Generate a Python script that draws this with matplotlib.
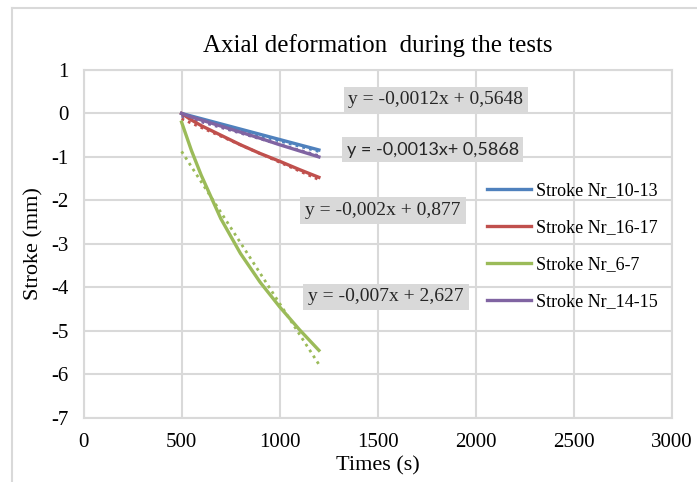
import numpy as np
import matplotlib
matplotlib.use("Agg")
import matplotlib.pyplot as plt
from matplotlib.lines import Line2D

plt.rcParams["axes.unicode_minus"] = False

t = [500, 550, 600, 700, 800, 900, 1000, 1100, 1200]
stroke_10_13 = [0.0, -0.06, -0.12, -0.24, -0.36, -0.48, -0.60, -0.72, -0.84]
stroke_16_17 = [0.0, -0.15, -0.28, -0.50, -0.72, -0.92, -1.10, -1.29, -1.47]
stroke_6_7 = [-0.2, -0.85, -1.42, -2.42, -3.22, -3.88, -4.45, -4.97, -5.45]
stroke_14_15 = [0.0, -0.08, -0.15, -0.29, -0.43, -0.57, -0.72, -0.86, -1.0]

names = ["Stroke Nr_10-13", "Stroke Nr_16-17", "Stroke Nr_6-7", "Stroke Nr_14-15"]
colors = ["#4F81BD", "#C0504D", "#9BBB59", "#8064A2"]

# linear trendlines (slope, intercept) as shown on the chart
slopes = [-0.0012, -0.002, -0.007, -0.0013]
intercepts = [0.5648, 0.877, 2.627, 0.5868]
eq_labels = ["y = -0,0012x + 0,5648", "y = -0,002x + 0,877",
             "y = -0,007x + 2,627", "y = -0,0013x+ 0,5868"]
eq_pos = [(1797, 0.31), (1527, -2.24), (1542, -4.22), (1781, -0.84)]

serif = "Liberation Serif"
grid_c = "#D9D9D9"

fig = plt.figure(figsize=(6.97, 4.82), dpi=100)
ax = fig.add_axes([0.1198, 0.1334, 0.8443, 0.7214])

series = [stroke_10_13, stroke_16_17, stroke_6_7, stroke_14_15]
for ys, c, name in zip(series, colors, names):
    ax.plot(t, ys, color=c, lw=2.4, label=name, zorder=3)

tt = np.array([500, 1200])
for m, b, c in zip(slopes, intercepts, colors):
    ax.plot(tt, m * tt + b, color=c, lw=2, ls=(0, (1, 1.5)), zorder=2)

for lab, (x, y) in zip(eq_labels, eq_pos):
    if "0,0013" in lab:
        fam, fs = "Lato", 13
    else:
        fam, fs = serif, 14
    ax.text(x, y, lab, ha="center", va="center", fontsize=fs, family=fam,
            color="#262626", zorder=4,
            bbox=dict(boxstyle="square,pad=0.25", fc="#D9D9D9", ec="none"))

ax.set_xlim(0, 3000)
ax.set_ylim(-7, 1)
ax.set_xticks(range(0, 3001, 500))
ax.set_yticks(range(-7, 2))
ax.grid(True, color=grid_c, lw=1.5)
ax.set_axisbelow(True)
for s in ax.spines.values():
    s.set_color(grid_c)
    s.set_linewidth(1.5)
ax.tick_params(length=0, labelsize=15, pad=11)
for lbl in ax.get_xticklabels() + ax.get_yticklabels():
    lbl.set_family(serif)

ax.set_xlabel("Times (s)", family=serif, fontsize=16, labelpad=3)
ax.set_ylabel("Stroke (mm)", family=serif, fontsize=16, labelpad=5)
ax.set_title("Axial deformation  during the tests", family=serif, fontsize=18, pad=13)

ax.legend(loc="upper left", bbox_to_anchor=(0.686, 0.678), frameon=False,
          prop={"family": serif, "size": 13}, handlelength=2.4,
          labelspacing=1.12, borderpad=0, borderaxespad=0, handletextpad=0.3)

# outer chart border
fig.add_artist(Line2D([12 / 697, 1], [1 - 8 / 482, 1 - 8 / 482], color=grid_c, lw=1.5))
fig.add_artist(Line2D([12 / 697, 12 / 697], [0, 1 - 8 / 482], color=grid_c, lw=1.5))

fig.savefig("out.png", dpi=100)
